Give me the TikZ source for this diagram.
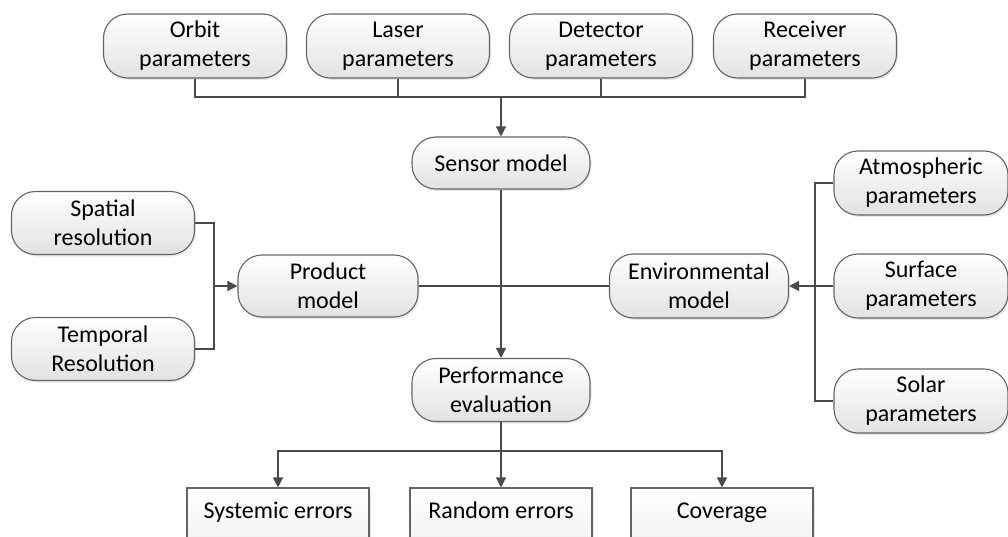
\documentclass[tikz,border=0pt]{standalone}
\usepackage{fontspec}
\setmainfont{Carlito}
\usetikzlibrary{arrows.meta, positioning, shadows, calc}
\definecolor{LineGray}{RGB}{75,75,75}
\definecolor{EdgeGray}{RGB}{100,100,100}
\definecolor{FillGray}{RGB}{226,226,226}

\tikzset{
  basebox/.style={draw=EdgeGray, line width=1.1pt, align=center, inner sep=0pt,
    font=\fontsize{24}{29}\selectfont,
    drop shadow={shadow xshift=1.5pt, shadow yshift=-2pt, opacity=0.18}},
  roundbox/.style={basebox, rounded corners=24pt, top color=white, bottom color=FillGray,
    minimum width=183pt, minimum height=64pt},
  squarebox/.style={basebox, top color=white, bottom color=FillGray!40,
    minimum width=182pt, minimum height=50pt, text height=16pt, text depth=5pt},
  link/.style={LineGray, line width=1.3pt},
  arrow/.style={link, -{Triangle[length=10pt,width=10pt]}}
}

\begin{document}
\begin{tikzpicture}[x=1pt,y=-1pt]
  \useasboundingbox (0,0) rectangle (1008,537);
  \clip (0,0) rectangle (1008,537);
  % parameter row
  \node[roundbox] (orbit)    at (195,46) {Orbit\\parameters};
  \node[roundbox] (laser)    at (398,46) {Laser\\parameters};
  \node[roundbox] (detector) at (601,46) {Detector\\parameters};
  \node[roundbox] (receiver) at (805,46) {Receiver\\parameters};
  % models
  \node[roundbox, minimum width=178pt, minimum height=52pt] (sensor) at (501,163) {Sensor model};
  \node[roundbox, minimum width=180pt, minimum height=62pt] (product) at (328,286) {Product\\model};
  \node[roundbox, minimum width=179pt] (env) at (699,286) {Environmental\\model};
  \node[roundbox, minimum width=178pt, minimum height=63pt] (perf) at (501,390) {Performance\\evaluation};
  % left inputs
  \node[roundbox, minimum height=63pt] (spatial)  at (103,223) {Spatial\\resolution};
  \node[roundbox, minimum height=63pt] (temporal) at (103,349) {Temporal\\Resolution};
  % right inputs
  \node[roundbox, minimum width=174pt] (atmos)   at (921,183) {Atmospheric\\parameters};
  \node[roundbox, minimum width=174pt] (surface) at (921,286) {Surface\\parameters};
  \node[roundbox, minimum width=174pt] (solar)   at (921,401) {Solar\\parameters};
  % outputs
  \node[squarebox] (systemic) at (278,513) {Systemic errors};
  \node[squarebox] (random)   at (501,513) {Random errors};
  \node[squarebox] (coverage) at (722,513) {Coverage};

  % buses
  \coordinate (topbus)   at (501,97);
  \coordinate (leftbus)  at (214,286);
  \coordinate (rightbus) at (815,286);
  \coordinate (botbus)   at (501,451);

  \draw[link] (orbit.south) |- (topbus);
  \draw[link] (receiver.south) |- (topbus);
  \draw[link] (laser.south) -- (laser.south |- topbus);
  \draw[link] (detector.south) -- (detector.south |- topbus);
  \draw[arrow] (topbus) -- (sensor.north);

  \draw[link] (spatial.east) -| (leftbus);
  \draw[link] (temporal.east) -| (leftbus);
  \draw[arrow] (leftbus) -- (product.west);

  \draw[link] (atmos.west) -| (rightbus);
  \draw[link] (solar.west) -| (rightbus);
  \draw[arrow] (surface.west) -- (env.east);

  \draw[link] (product.east) -- (env.west);
  \draw[arrow] (sensor.south) -- (perf.north);

  \draw[link] (perf.south) -- (botbus);
  \draw[arrow] (botbus) -| (systemic.north);
  \draw[arrow] (botbus) -| (coverage.north);
  \draw[arrow] (botbus) -- (random.north);
\end{tikzpicture}
\end{document}
